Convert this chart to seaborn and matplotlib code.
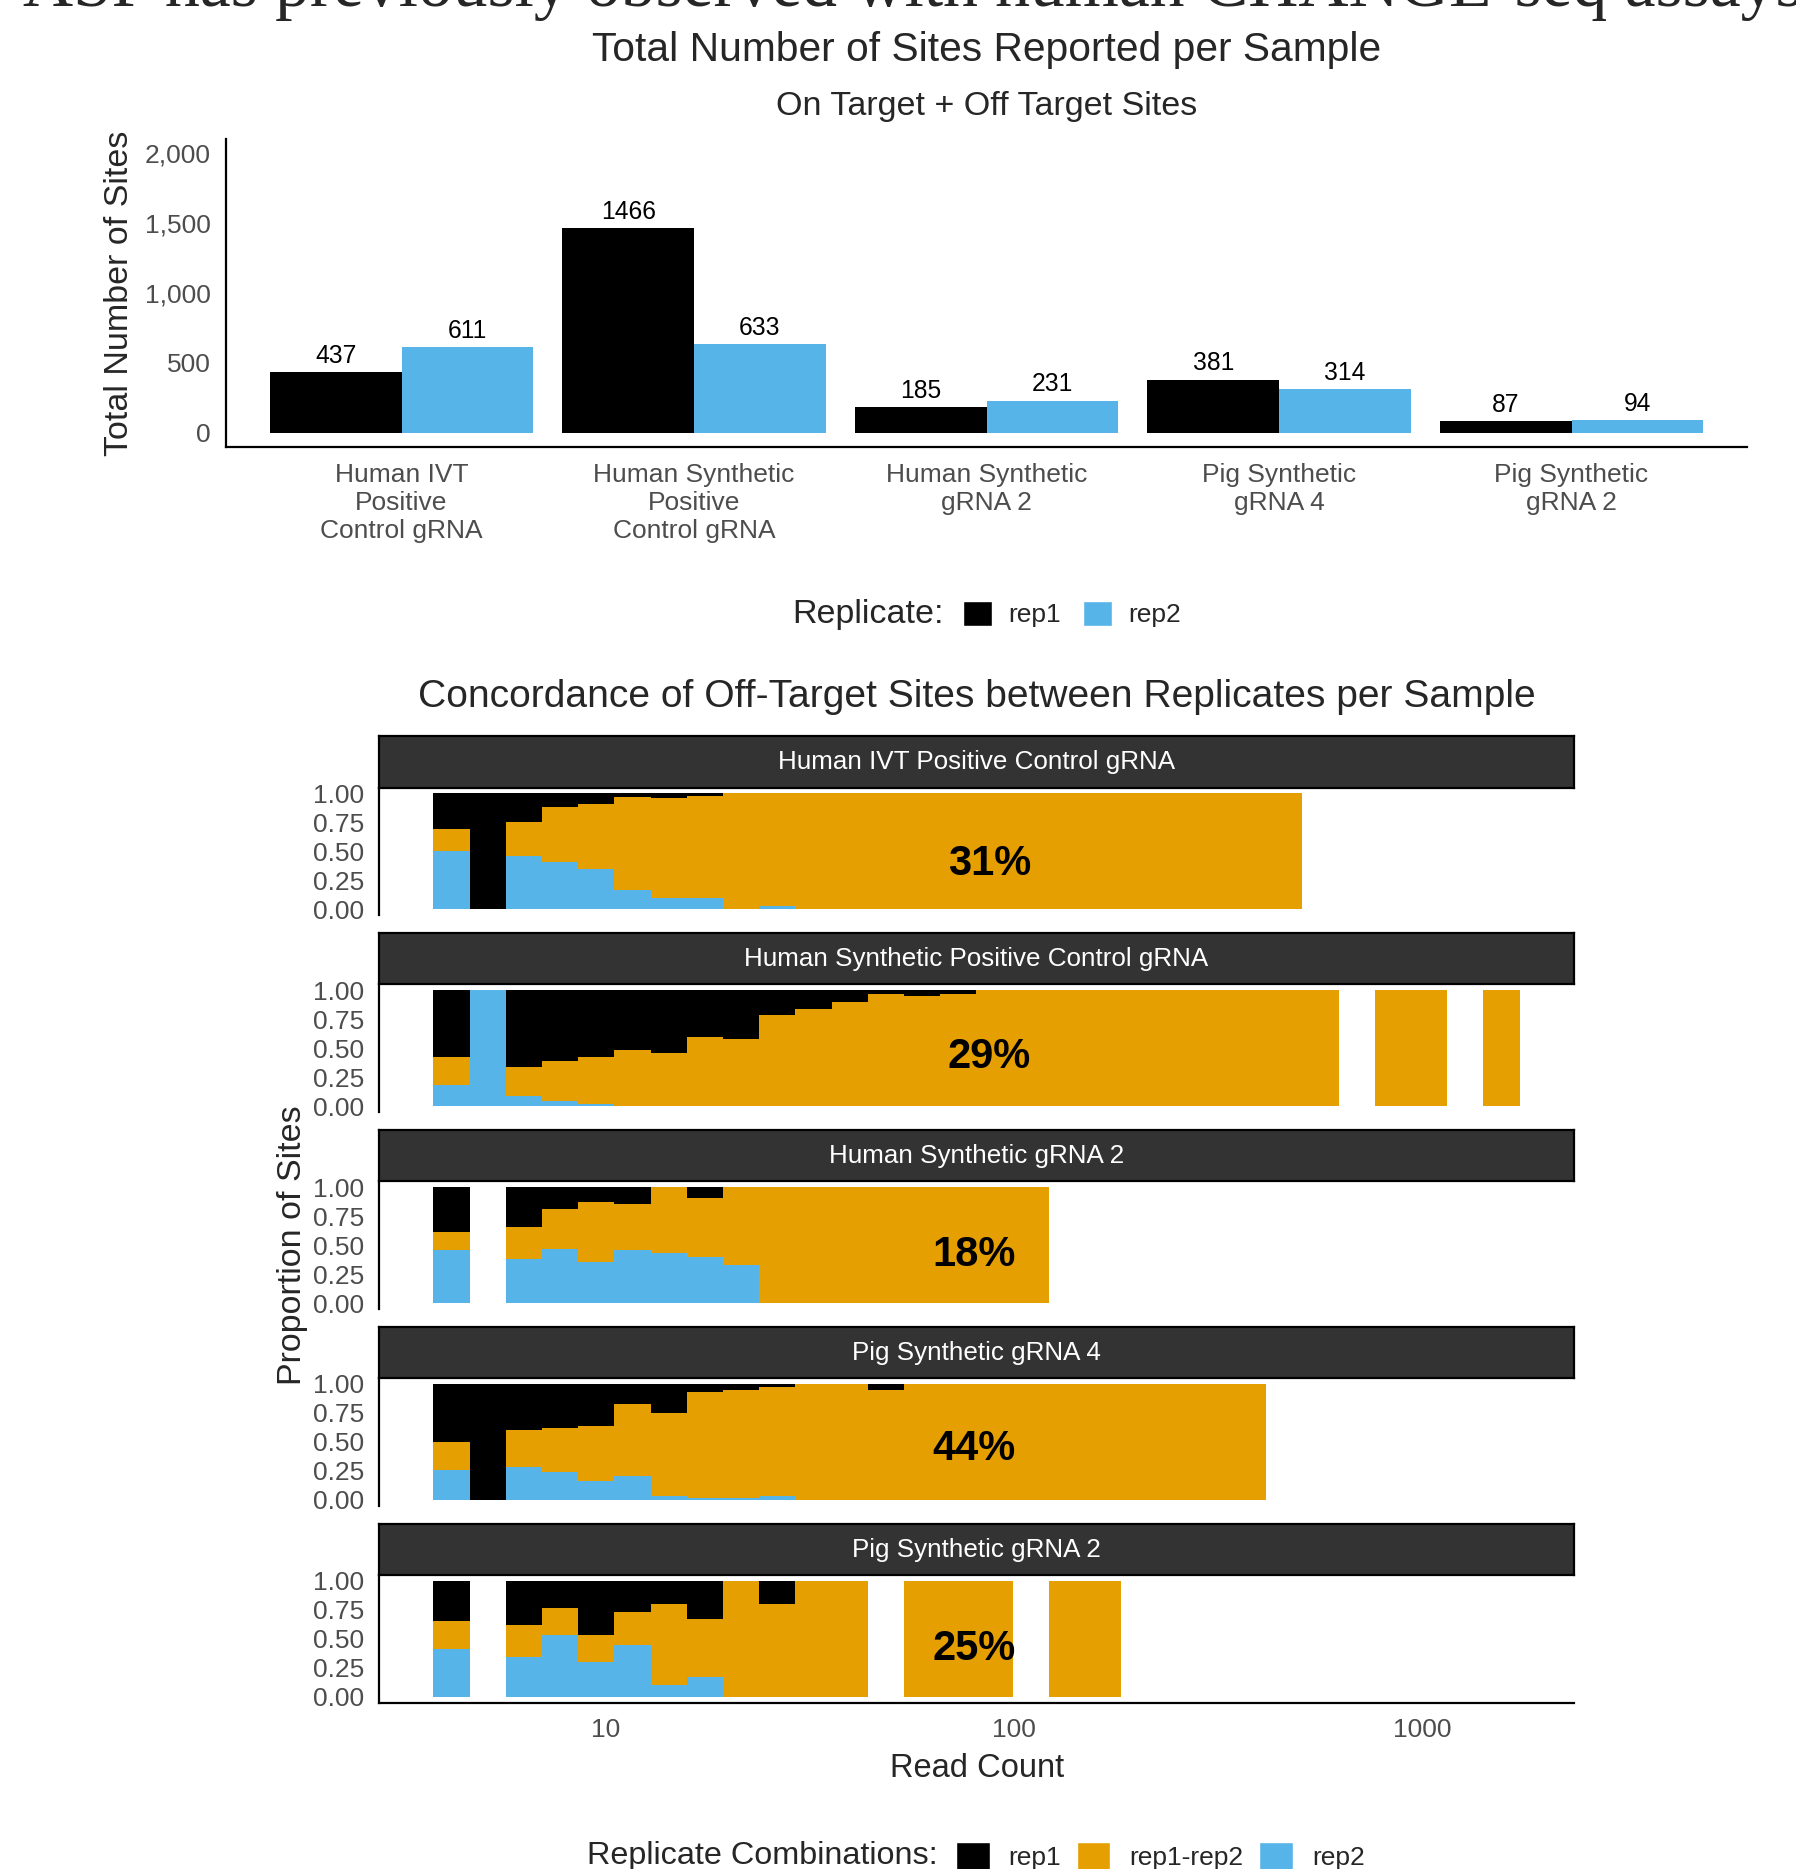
import numpy as np
import pandas as pd
import matplotlib
matplotlib.use("Agg")
import matplotlib.pyplot as plt
from matplotlib.patches import Patch
from matplotlib.ticker import NullLocator, StrMethodFormatter
import seaborn as sns

# ---------------------------------------------------------------- data
samples = [
    "Human IVT Positive Control gRNA",
    "Human Synthetic Positive Control gRNA",
    "Human Synthetic gRNA 2",
    "Pig Synthetic gRNA 4",
    "Pig Synthetic gRNA 2",
]
sample_ticklabels = [
    "Human IVT\nPositive\nControl gRNA",
    "Human Synthetic\nPositive\nControl gRNA",
    "Human Synthetic\ngRNA 2",
    "Pig Synthetic\ngRNA 4",
    "Pig Synthetic\ngRNA 2",
]
replicates = ["rep1", "rep2"]
sites_rep1 = [437, 1466, 185, 381, 87]
sites_rep2 = [611, 633, 231, 314, 94]

combos = ["rep1", "rep1-rep2", "rep2"]
read_min, read_max, n_bins = 4, 1500, 30

# share of each replicate combination in every read-count bin (all 0 = empty bin)
ivt_rep1 = [0.31, 1.00, 0.25, 0.12, 0.09, 0.03, 0.04, 0.02, 0.00, 0.00,
            0, 0, 0, 0, 0, 0, 0, 0, 0, 0, 0, 0, 0, 0]
ivt_both = [0.19, 0.00, 0.29, 0.47, 0.56, 0.80, 0.86, 0.88, 1.00, 0.97,
            1, 1, 1, 1, 1, 1, 1, 1, 1, 1, 1, 1, 1, 1]
ivt_rep2 = [0.50, 0.00, 0.46, 0.41, 0.35, 0.17, 0.10, 0.10, 0.00, 0.03,
            0, 0, 0, 0, 0, 0, 0, 0, 0, 0, 0, 0, 0, 0]

hsp_rep1 = [0.58, 0.00, 0.66, 0.61, 0.58, 0.52, 0.54, 0.40, 0.42, 0.21,
            0.16, 0.10, 0.03, 0.05, 0.03, 0, 0, 0, 0, 0,
            0, 0, 0, 0, 0, 0, 0, 0, 0, 0]
hsp_both = [0.24, 0.00, 0.25, 0.35, 0.40, 0.48, 0.46, 0.60, 0.58, 0.79,
            0.84, 0.90, 0.97, 0.95, 0.97, 1, 1, 1, 1, 1,
            1, 1, 1, 1, 1, 0, 1, 1, 0, 1]
hsp_rep2 = [0.18, 1.00, 0.09, 0.04, 0.02, 0, 0, 0, 0, 0,
            0, 0, 0, 0, 0, 0, 0, 0, 0, 0,
            0, 0, 0, 0, 0, 0, 0, 0, 0, 0]

hs2_rep1 = [0.39, 0, 0.34, 0.19, 0.13, 0.15, 0.00, 0.09, 0.00,
            0, 0, 0, 0, 0, 0, 0, 0]
hs2_both = [0.15, 0, 0.28, 0.34, 0.52, 0.39, 0.57, 0.51, 0.67,
            1, 1, 1, 1, 1, 1, 1, 1]
hs2_rep2 = [0.46, 0, 0.38, 0.47, 0.35, 0.46, 0.43, 0.40, 0.33,
            0, 0, 0, 0, 0, 0, 0, 0]

pg4_rep1 = [0.50, 1.00, 0.40, 0.38, 0.36, 0.17, 0.25, 0.07, 0.05, 0.03,
            0, 0, 0.05, 0, 0, 0, 0, 0, 0, 0, 0, 0, 0]
pg4_both = [0.24, 0.00, 0.32, 0.38, 0.48, 0.62, 0.72, 0.91, 0.93, 0.94,
            1, 1, 0.95, 1, 1, 1, 1, 1, 1, 1, 1, 1, 1]
pg4_rep2 = [0.26, 0.00, 0.28, 0.24, 0.16, 0.21, 0.03, 0.02, 0.02, 0.03,
            0, 0, 0, 0, 0, 0, 0, 0, 0, 0, 0, 0, 0]

pg2_rep1 = [0.35, 0, 0.38, 0.23, 0.47, 0.27, 0.20, 0.33, 0.00, 0.20,
            0, 0, 0, 0, 0, 0, 0, 0, 0]
pg2_both = [0.24, 0, 0.28, 0.24, 0.23, 0.28, 0.70, 0.50, 1.00, 0.80,
            1, 1, 0, 1, 1, 1, 0, 1, 1]
pg2_rep2 = [0.41, 0, 0.34, 0.53, 0.30, 0.45, 0.10, 0.17, 0.00, 0.00,
            0, 0, 0, 0, 0, 0, 0, 0, 0]

panel_shares = [
    (ivt_rep1, ivt_both, ivt_rep2),
    (hsp_rep1, hsp_both, hsp_rep2),
    (hs2_rep1, hs2_both, hs2_rep2),
    (pg4_rep1, pg4_both, pg4_rep2),
    (pg2_rep1, pg2_both, pg2_rep2),
]
concordance_labels = ["31%", "29%", "18%", "44%", "25%"]
label_read_count = [87, 87, 80, 80, 80]
label_share = [0.42, 0.46, 0.45, 0.47, 0.45]

# ---------------------------------------------------------------- style
BLACK, BLUE, ORANGE = "#000000", "#56B4E9", "#E69F00"
rep_palette = {"rep1": BLACK, "rep2": BLUE}
combo_palette = {"rep1": BLACK, "rep1-rep2": ORANGE, "rep2": BLUE}
TICK_GREY, TICK_LINE = "#4D4D4D", "#333333"

sns.set_theme(style="white")
plt.rcParams["font.family"] = ["Liberation Sans", "DejaVu Sans"]
plt.rcParams["axes.linewidth"] = 1.6

W, H, DPI = 1796, 1869, 100
fig = plt.figure(figsize=(W / DPI, H / DPI), dpi=DPI)
fig.patch.set_facecolor("white")


def px_axes(left, top, right, bottom, **kw):
    return fig.add_axes([left / W, 1 - bottom / H, (right - left) / W, (bottom - top) / H], **kw)


def fx(x):
    return x / W


def fy(y):
    return 1 - y / H


def style_ticks(ax):
    ax.tick_params(axis="both", which="major", length=4.3, width=1.2, color=TICK_LINE,
                   labelcolor=TICK_GREY, labelsize=19)
    ax.tick_params(axis="x", pad=7)
    ax.tick_params(axis="y", pad=6.5)


# partially visible caption line running off the top edge
fig.text(fx(23), fy(6), "ASP has previously observed with human CHANGE-seq assays.",
         family=["Liberation Serif", "DejaVu Serif"], fontsize=50, ha="left", va="baseline")

# ---------------------------------------------------------------- total sites bar chart
bars = pd.DataFrame({
    "sample": samples * 2,
    "replicate": ["rep1"] * len(samples) + ["rep2"] * len(samples),
    "sites": sites_rep1 + sites_rep2,
})
ax = px_axes(226, 139, 1747, 447)
sns.barplot(data=bars, x="sample", y="sites", hue="replicate", order=samples,
            hue_order=replicates, palette=rep_palette, saturation=1, width=0.9,
            gap=0, linewidth=0, legend=False, ax=ax)
for cont in ax.containers:
    ax.bar_label(cont, fmt="{:.0f}", padding=3, fontsize=17.7, color="black")
ax.set_xlim(-0.6, 4.6)
ax.set_ylim(-100, 2100)
ax.set_yticks([0, 500, 1000, 1500, 2000])
ax.yaxis.set_major_formatter(StrMethodFormatter("{x:,.0f}"))
ax.set_xticks(range(len(samples)))
ax.set_xticklabels(sample_ticklabels, linespacing=1.22)
ax.set_xlabel("")
ax.set_ylabel("")
sns.despine(ax=ax)
style_ticks(ax)
for s in ("left", "bottom"):
    ax.spines[s].set_color("black")

fig.text(fx(987), fy(50), "Total Number of Sites Reported per Sample", fontsize=29.3,
         ha="center", va="center")
fig.text(fx(987), fy(106), "On Target + Off Target Sites", fontsize=24.5,
         ha="center", va="center")
fig.text(fx(120), fy(293), "Total Number of Sites", fontsize=24.5, rotation=90,
         ha="center", va="center")

fig.text(fx(792), fy(614), "Replicate:", fontsize=24.5, ha="left", va="center")
fig.legend(handles=[Patch(facecolor=rep_palette[r], label=r) for r in replicates],
           loc="center left", bbox_to_anchor=(fx(963), fy(614)), ncol=2, frameon=False,
           fontsize=19, handlelength=1.1, handleheight=1.1, handletextpad=0.6,
           columnspacing=0.85, borderpad=0, borderaxespad=0)

# ---------------------------------------------------------------- concordance histograms
bw = (np.log10(read_max) - np.log10(read_min)) / (n_bins - 1)
origin = bw / 2 + np.floor((np.log10(read_min) - bw / 2) / bw) * bw
edges = origin + bw * np.arange(n_bins + 1)
centers = 10 ** ((edges[:-1] + edges[1:]) / 2)
span = edges[-1] - edges[0]
xlim = (10 ** (edges[0] - 0.05 * span), 10 ** (edges[-1] + 0.05 * span))

rows = []
for sample, shares in zip(samples, panel_shares):
    for combo, vals in zip(combos, shares):
        for b, v in enumerate(vals):
            rows.append((sample, combo, centers[b], v))
conc = pd.DataFrame(rows, columns=["sample", "combo", "read_count", "share"])

PANEL_L, PANEL_R = 379, 1574
STRIP_H, PANEL_H, STEP = 51, 127.5, 196.9
for i, sample in enumerate(samples):
    strip_top = 736.5 + STEP * i
    panel_top = strip_top + STRIP_H
    pax = px_axes(PANEL_L, panel_top, PANEL_R, panel_top + PANEL_H)
    sns.histplot(data=conc[conc["sample"] == sample], x="read_count", weights="share",
                 hue="combo", hue_order=combos, palette=combo_palette,
                 bins=[float(e) for e in edges], log_scale=True, multiple="fill",
                 element="bars", linewidth=0, alpha=1, legend=False, ax=pax)
    pax.set_xlim(*xlim)
    pax.set_ylim(-0.05, 1.05)
    pax.set_yticks([0, 0.25, 0.5, 0.75, 1.0])
    pax.set_yticklabels(["0.00", "0.25", "0.50", "0.75", "1.00"])
    pax.xaxis.set_minor_locator(NullLocator())
    pax.set_xticks([10, 100, 1000])
    pax.set_xticklabels(["10", "100", "1000"])
    pax.set_xlabel("")
    pax.set_ylabel("")
    style_ticks(pax)
    for s in ("top", "right"):
        pax.spines[s].set_visible(False)
    pax.spines["left"].set_color("black")
    if i < len(samples) - 1:
        pax.spines["bottom"].set_visible(False)
        pax.tick_params(axis="x", bottom=False, labelbottom=False)
    else:
        pax.spines["bottom"].set_color("black")
    pax.annotate(concordance_labels[i], xy=(label_read_count[i], label_share[i]),
                 xytext=(0, -10.7), textcoords="offset points", ha="center",
                 va="baseline", fontsize=30, fontweight="bold", color="black")

    sax = px_axes(PANEL_L, strip_top, PANEL_R, strip_top + STRIP_H)
    sax.set_facecolor("#333333")
    sax.set_xticks([])
    sax.set_yticks([])
    for s in sax.spines.values():
        s.set_visible(True)
        s.set_color("black")
        s.set_linewidth(1.6)
    sax.text(0.5, 0.5, sample, color="white", fontsize=18.7, ha="center", va="center",
             transform=sax.transAxes)

fig.text(fx(977), fy(697), "Concordance of Off-Target Sites between Replicates per Sample",
         fontsize=28.1, ha="center", va="center")
fig.text(fx(293), fy(1245), "Proportion of Sites", fontsize=24.5, rotation=90,
         ha="center", va="center")
fig.text(fx(977), fy(1768), "Read Count", fontsize=23.5, ha="center", va="center")

fig.text(fx(938), fy(1856), "Replicate Combinations:", fontsize=23.3, ha="right", va="center")
fig.legend(handles=[Patch(facecolor=combo_palette[c], label=c) for c in combos],
           loc="center left", bbox_to_anchor=(fx(956), fy(1856)), ncol=3, frameon=False,
           fontsize=19, handlelength=1.27, handleheight=1.27, handletextpad=0.72,
           columnspacing=0.6, borderpad=0, borderaxespad=0)

fig.savefig("out.png", dpi=DPI, facecolor="white")
